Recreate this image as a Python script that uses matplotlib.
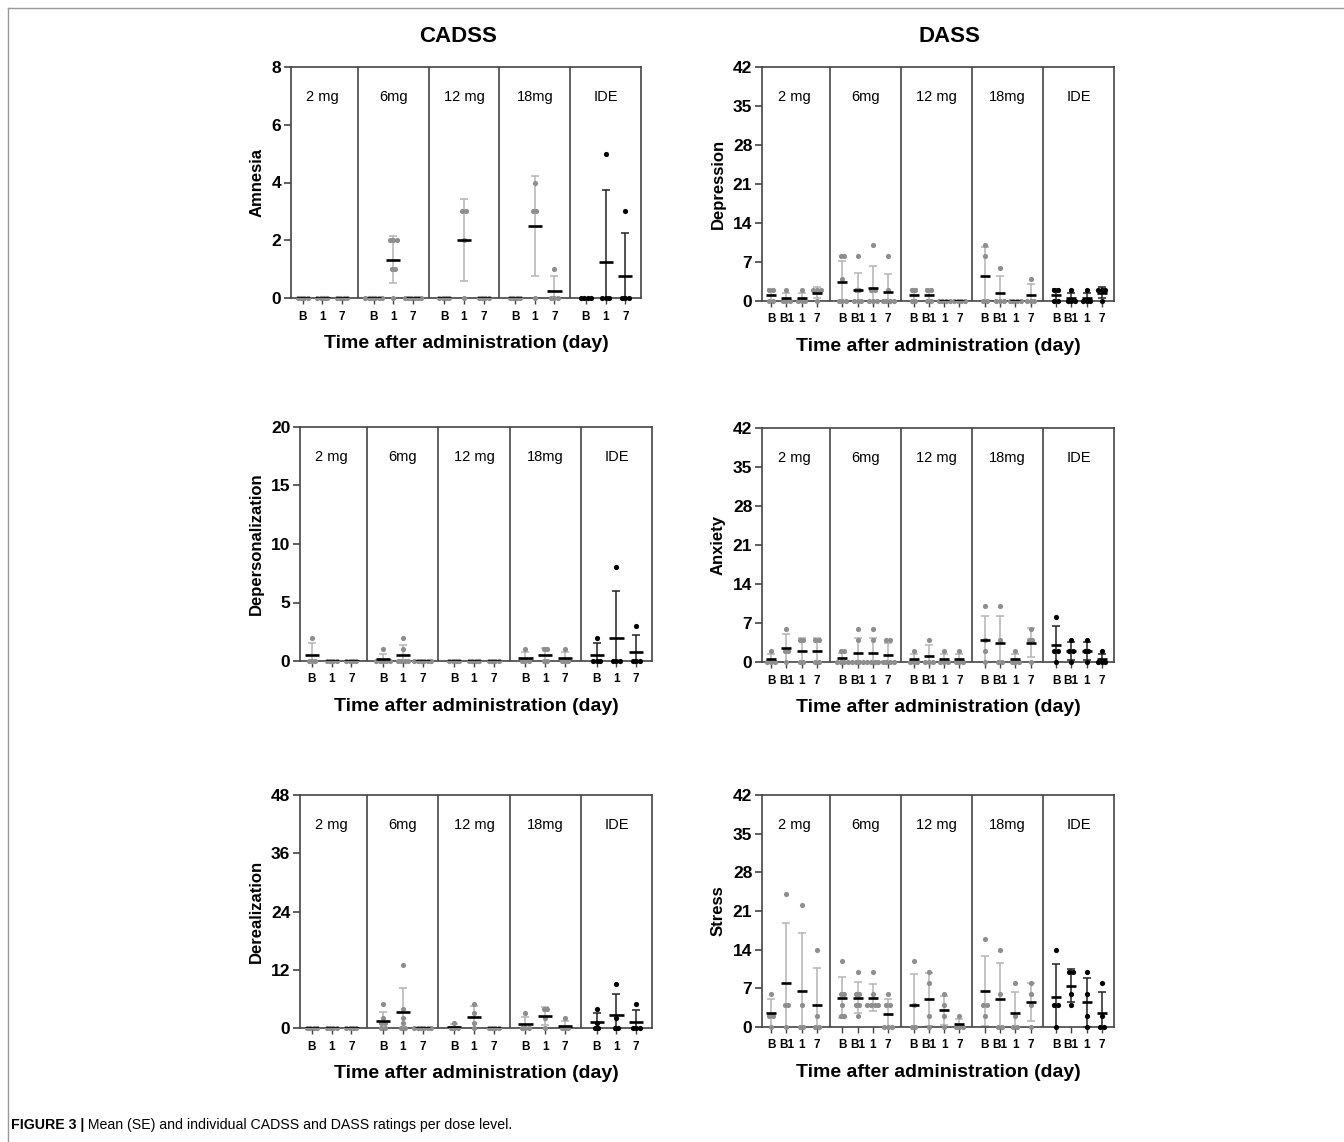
import numpy as np
import matplotlib.pyplot as plt
from matplotlib.lines import Line2D

plt.rcParams['font.family'] = ['Liberation Sans', 'DejaVu Sans']

doses = ['2 mg', '6mg', '12 mg', '18mg', 'IDE']
cadss_times = ['B', '1', '7']
dass_times = ['B', 'B1', '1', '7']

# individual ratings: one entry per dose, one list per time point
amnesia = [
    [[0, 0, 0, 0], [0, 0, 0, 0], [0, 0, 0, 0]],
    [[0, 0, 0, 0, 0, 0], [2, 2, 2, 1, 1, 0], [0, 0, 0, 0, 0, 0]],
    [[0, 0, 0, 0], [3, 3, 2, 0], [0, 0, 0, 0]],
    [[0, 0, 0, 0], [4, 3, 3, 0], [1, 0, 0, 0]],
    [[0, 0, 0, 0], [5, 0, 0, 0], [3, 0, 0, 0]],
]
depersonalization = [
    [[2, 0, 0, 0], [0, 0, 0, 0], [0, 0, 0, 0]],
    [[1, 0, 0, 0, 0, 0], [2, 1, 0, 0, 0, 0], [0, 0, 0, 0, 0, 0]],
    [[0, 0, 0, 0], [0, 0, 0, 0], [0, 0, 0, 0]],
    [[1, 0, 0, 0], [1, 1, 0, 0], [1, 0, 0, 0]],
    [[2, 0, 0, 0], [8, 0, 0, 0], [3, 0, 0, 0]],
]
derealization = [
    [[0, 0, 0, 0], [0, 0, 0, 0], [0, 0, 0, 0]],
    [[5, 2, 1, 1, 0, 0], [13, 4, 2, 1, 0, 0], [0, 0, 0, 0, 0, 0]],
    [[1, 0, 0, 0], [5, 3, 1, 0], [0, 0, 0, 0]],
    [[3, 0, 0, 0], [4, 4, 2, 0], [2, 0, 0, 0]],
    [[4, 1, 0, 0], [9, 2, 0, 0], [5, 0, 0, 0]],
]
depression = [
    [[2, 2, 0, 0], [2, 0, 0, 0], [2, 0, 0, 0], [2, 2, 2, 0]],
    [[8, 8, 4, 0, 0, 0], [8, 2, 2, 0, 0, 0], [10, 2, 2, 0, 0, 0], [8, 2, 0, 0, 0, 0]],
    [[2, 2, 0, 0], [2, 2, 0, 0], [0, 0, 0, 0], [0, 0, 0, 0]],
    [[10, 8, 0, 0], [6, 0, 0, 0], [0, 0, 0, 0], [4, 0, 0, 0]],
    [[2, 2, 0, 0], [2, 0, 0, 0], [2, 0, 0, 0], [2, 2, 2, 0]],
]
anxiety = [
    [[2, 0, 0, 0], [6, 2, 2, 0], [4, 4, 0, 0], [4, 4, 0, 0]],
    [[2, 2, 0, 0, 0, 0], [6, 4, 0, 0, 0, 0], [6, 4, 0, 0, 0, 0], [4, 4, 0, 0, 0, 0]],
    [[2, 0, 0, 0], [4, 0, 0, 0], [2, 0, 0, 0], [2, 0, 0, 0]],
    [[10, 4, 2, 0], [10, 4, 0, 0], [2, 0, 0, 0], [6, 4, 4, 0]],
    [[8, 2, 2, 0], [4, 2, 2, 0], [4, 2, 2, 0], [2, 0, 0, 0]],
]
stress = [
    [[6, 2, 2, 0], [24, 4, 4, 0], [22, 4, 0, 0], [14, 2, 0, 0]],
    [[12, 6, 6, 4, 2, 2], [10, 6, 6, 4, 4, 2], [10, 6, 4, 4, 4, 4], [6, 4, 4, 0, 0, 0]],
    [[12, 4, 0, 0], [10, 8, 2, 0], [6, 4, 2, 0], [2, 0, 0, 0]],
    [[16, 4, 4, 2], [14, 6, 0, 0], [8, 2, 0, 0], [8, 6, 4, 0]],
    [[14, 4, 4, 0], [10, 10, 6, 4], [10, 6, 2, 0], [8, 2, 0, 0]],
]

W, H = 1344, 1142
fig = plt.figure(figsize=(W / 100, H / 100), dpi=100)
spine_c = '#444444'


def spread(vals, step):
    offs = np.zeros(len(vals))
    for v in np.unique(vals):
        idx = np.where(vals == v)[0]
        offs[idx] = (np.arange(len(idx)) - (len(idx) - 1) / 2) * step
    return offs


def panel(box, data, times, ymax, ystep, ylabel, gap, step, hw):
    l, t, r, b = box
    ax = fig.add_axes([l / W, 1 - b / H, (r - l) / W, (b - t) / H])
    n = len(times)
    period = n - 1 + gap
    ticks, labels = [], []
    for g, groups in enumerate(data):
        dot_c = 'black' if g == 4 else '#8e8e8e'
        bar_c = '#222222' if g == 4 else '#b4b4b4'
        for j, vals in enumerate(groups):
            x = g * period + j
            v = np.array(vals, float)
            m, sd = v.mean(), v.std(ddof=1)
            ax.errorbar(x, m, yerr=sd, color=bar_c, lw=1.1, capsize=3, capthick=1.1, zorder=2)
            ax.scatter(x + spread(v, step), v, s=14, color=dot_c, lw=0, zorder=3, clip_on=False)
            ax.plot([x - hw, x + hw], [m, m], color='black', lw=1.9, zorder=4, solid_capstyle='butt')
            ticks.append(x)
            labels.append(times[j])
        if g < len(data) - 1:
            ax.axvline(g * period + n - 1 + gap / 2, color=spine_c, lw=1.2, zorder=1)
        ax.text(g * period + (n - 1) / 2, ymax * 0.87, doses[g], ha='center', va='center', fontsize=10.5)
    ax.set_xlim(-0.6, 4 * period + n - 1 + 0.8)
    ax.set_ylim(0, ymax)
    ax.set_yticks(np.arange(0, ymax + 0.1, ystep))
    ax.set_xticks(ticks)
    ax.set_xticklabels(labels, fontsize=8.5, fontweight='bold')
    ax.tick_params(axis='y', labelsize=12.5, length=5, width=1.2, color=spine_c, pad=2)
    ax.tick_params(axis='x', length=4, width=1, color=spine_c, pad=5)
    for lab in ax.get_yticklabels():
        lab.set_fontweight('bold')
    for s in ax.spines.values():
        s.set_color(spine_c)
        s.set_linewidth(1.2)
    ax.set_ylabel(ylabel, fontsize=12, fontweight='bold', labelpad=5)
    ax.set_xlabel('Time after administration (day)', fontsize=14, fontweight='bold', labelpad=9)
    return ax


ax0 = panel((291, 67, 641, 298), amnesia, cadss_times, 8, 2, 'Amnesia', 1.6, 0.17, 0.36)
panel((300, 427, 652, 661), depersonalization, cadss_times, 20, 5, 'Depersonalization', 1.6, 0.17, 0.36)
panel((300, 795, 652, 1028), derealization, cadss_times, 48, 12, 'Derealization', 1.6, 0.17, 0.36)
panel((762, 67, 1114, 301), depression, dass_times, 42, 7, 'Depression', 1.67, 0.24, 0.33)
panel((762, 428, 1114, 662), anxiety, dass_times, 42, 7, 'Anxiety', 1.67, 0.24, 0.33)
panel((762, 795, 1114, 1027), stress, dass_times, 42, 7, 'Stress', 1.67, 0.24, 0.33)

fig.text(458 / W, 1 - 36 / H, 'CADSS', ha='center', va='center', fontsize=16, fontweight='bold')
fig.text(949 / W, 1 - 36 / H, 'DASS', ha='center', va='center', fontsize=16, fontweight='bold')

# page frame
fig.add_artist(Line2D([8 / W, 8 / W], [0, 1 - 8 / H], color='#9a9a9a', lw=1))
fig.add_artist(Line2D([8 / W, 1], [1 - 8 / H, 1 - 8 / H], color='#9a9a9a', lw=1))

t1 = fig.text(11 / W, 1 - 1125 / H, 'FIGURE 3 |', ha='left', va='center', fontsize=10.2, fontweight='bold')
ax0.annotate(' Mean (SE) and individual CADSS and DASS ratings per dose level.', xy=(1, 0.5),
             xycoords=t1, ha='left', va='center', fontsize=10.2, annotation_clip=False)

fig.savefig('out.png', dpi=100)
